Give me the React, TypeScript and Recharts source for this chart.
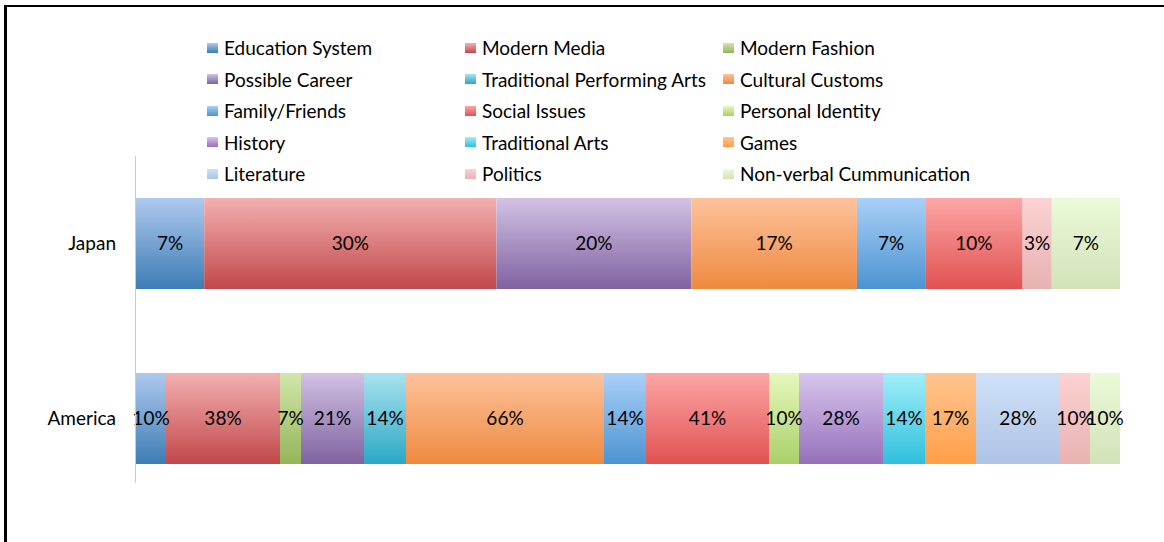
import React from 'react';
import { BarChart, Bar, XAxis, YAxis, LabelList } from 'recharts';

const categories = ['Japan', 'America'];
const seriesNames = [
  'Education System', 'Modern Media', 'Modern Fashion',
  'Possible Career', 'Traditional Performing Arts', 'Cultural Customs',
  'Family/Friends', 'Social Issues', 'Personal Identity',
  'History', 'Traditional Arts', 'Games',
  'Literature', 'Politics', 'Non-verbal Cummunication',
];
const japanValues = [7, 30, 0, 20, 0, 17, 7, 10, 0, 0, 0, 0, 0, 3, 7];
const americaValues = [10, 38, 7, 21, 14, 66, 14, 41, 10, 28, 14, 17, 28, 10, 10];
const topColors = [
  '#aec9ee', '#f4b0b0', '#d2e6ab', '#d2c2e4', '#a9e2f0', '#fdc29c',
  '#a9d0f8', '#fda6a6', '#e6f8bc', '#d8c6ee', '#a2eef9', '#ffc590',
  '#cfe1f9', '#fcd2d2', '#ebfad8',
];
const bottomColors = [
  '#3d7cb5', '#c0474a', '#94b55a', '#7f62a0', '#2aa8c4', '#ee8a40',
  '#4c93d0', '#e05252', '#a9d06a', '#9670ba', '#2fc0dc', '#ff9f48',
  '#aec4e4', '#e8b2b2', '#d2e2b8',
];

const valuesByCountry = [japanValues, americaValues];
const data = categories.map((c, i) => {
  const row: Record<string, any> = { country: c };
  seriesNames.forEach((s, j) => {
    row[`s${j}`] = valuesByCountry[i][j];
  });
  return row;
});

const FONT = 'Lato, "Open Sans", sans-serif';

export default function App() {
  return (
    <div style={{ position: 'fixed', left: 0, top: 0, width: 1164, height: 542, overflow: 'hidden', background: '#fff', fontFamily: FONT }}>
      <div style={{ position: 'absolute', left: 4, top: 5, width: 2000, height: 2000, borderLeft: '3px solid #000', borderTop: '2px solid #000' }} />
      <div style={{ position: 'absolute', left: 0, top: 0 }}>
        <BarChart
          width={1164}
          height={542}
          data={data}
          layout="vertical"
          stackOffset="expand"
          margin={{ top: 156, right: 44, bottom: 36, left: 16 }}
        >
          <defs>
            {seriesNames.map((s, j) => (
              <linearGradient key={s} id={`g${j}`} x1="0" y1="0" x2="0" y2="1">
                <stop offset="0%" stopColor={topColors[j]} />
                <stop offset="100%" stopColor={bottomColors[j]} />
              </linearGradient>
            ))}
          </defs>
          <XAxis type="number" hide domain={[0, 1]} />
          <YAxis
            type="category"
            dataKey="country"
            width={120}
            axisLine={false}
            tickLine={false}
            tickMargin={14}
            tick={{ fill: '#000', fontSize: 19, fontFamily: FONT }}
          />
          {seriesNames.map((s, j) => (
            <Bar key={s} dataKey={`s${j}`} name={s} stackId="a" barSize={91} fill={`url(#g${j})`} isAnimationActive={false}>
              <LabelList
                dataKey={`s${j}`}
                position="center"
                formatter={(v: any) => (v ? `${v}%` : '')}
                style={{ fill: '#000', fontSize: 19, fontFamily: FONT }}
              />
            </Bar>
          ))}
        </BarChart>
      </div>
      <div style={{ position: 'absolute', left: 135, top: 156, width: 1, height: 327, background: '#cccccc' }} />
      <div
        style={{
          position: 'absolute',
          left: 207,
          top: 32,
          display: 'grid',
          gridTemplateColumns: '258px 258px 258px',
          gridAutoRows: '31.5px',
          alignItems: 'center',
        }}
      >
        {seriesNames.map((s, j) => (
          <div key={s} style={{ display: 'flex', alignItems: 'center', whiteSpace: 'nowrap' }}>
            <span
              style={{
                display: 'inline-block',
                width: 11,
                height: 10,
                marginRight: 6,
                background: `linear-gradient(${topColors[j]}, ${bottomColors[j]})`,
              }}
            />
            <span style={{ fontSize: 19, color: '#000' }}>{s}</span>
          </div>
        ))}
      </div>
    </div>
  );
}
